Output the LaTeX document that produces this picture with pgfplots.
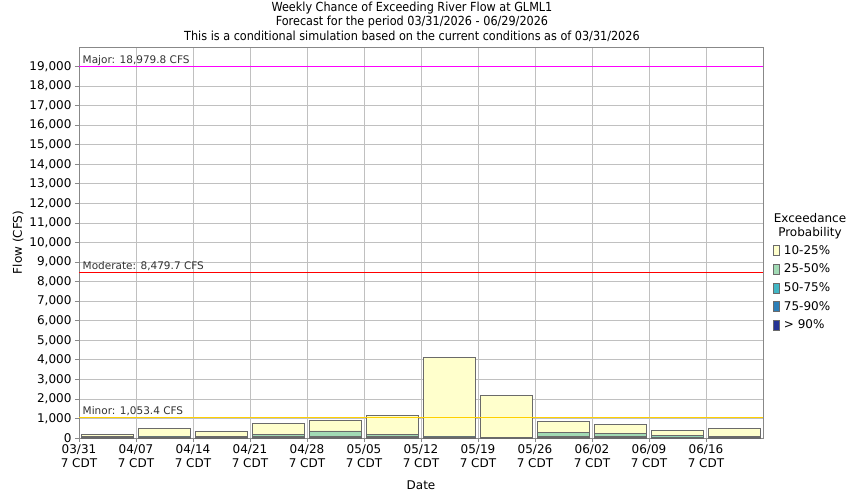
\documentclass[border=0pt]{standalone}
\usepackage{pgfplots}
\pgfplotsset{compat=1.18}
\usepackage{fontspec}
\setmainfont{DejaVu Sans}
\newfontfamily\condfont{DejaVu Sans Condensed}
\definecolor{c10}{HTML}{FFFFCC}
\definecolor{c25}{HTML}{A1DAB4}
\definecolor{c50}{HTML}{41B6C4}
\definecolor{c75}{HTML}{2C7FB8}
\definecolor{c90}{HTML}{253494}
\definecolor{barline}{HTML}{6A6A6A}
\definecolor{gridc}{HTML}{C0C0C0}
\definecolor{axisc}{HTML}{888888}
\definecolor{minorc}{HTML}{FFD000}
\definecolor{majorc}{HTML}{FF00FF}
\definecolor{modc}{HTML}{FF0000}
\definecolor{txt}{HTML}{333333}
\begin{document}
\begin{tikzpicture}[font=\fontsize{12}{14}\selectfont]
\path[use as bounding box] (-79pt,-62pt) rectangle (771pt,438pt);
\begin{axis}[
  at={(0,0)}, anchor=south west,
  scale only axis, width=684pt, height=391pt,
  xmin=0, xmax=12, ymin=0, ymax=20000,
  xtick={0,1,...,11},
  xticklabels={{03/31\\7 CDT},{04/07\\7 CDT},{04/14\\7 CDT},{04/21\\7 CDT},{04/28\\7 CDT},{05/05\\7 CDT},{05/12\\7 CDT},{05/19\\7 CDT},{05/26\\7 CDT},{06/02\\7 CDT},{06/09\\7 CDT},{06/16\\7 CDT}},
  xticklabel style={align=center, font=\fontsize{12}{14}\selectfont, yshift=1pt},
  ytick={0,1000,...,19000},
  yticklabel style={font=\fontsize{12}{14}\selectfont},
  /pgf/number format/assume math mode=true,
  /pgf/number format/1000 sep={,},
  scaled y ticks=false,
  grid=major,
  major grid style={gridc, line width=0.8pt},
  axis line style={axisc, line width=0.9pt},
  tick style={axisc, line width=0.8pt},
  tick align=outside, major tick length=4pt,
  xtick pos=bottom, ytick pos=left,
  xlabel={Date}, ylabel={Flow (CFS)},
  xlabel style={at={(axis description cs:0.5,-0.120)}, anchor=center},
  ylabel style={at={(axis description cs:-0.0892,0.5)}, anchor=center},
  legend image code/.code={\draw[#1] (0pt,-5pt) rectangle (6pt,5pt);},
  legend style={at={(axis description cs:1.0145,0.497)}, anchor=north west, draw=none, fill=none,
    font=\fontsize{12}{14}\selectfont, row sep=5.2pt, column sep=2.5pt, inner sep=0pt,
    nodes={inner sep=1.5pt}},
  legend cell align=left,
]
\addplot[ybar, bar width=52pt, fill=c10, draw=barline, line width=0.8pt] coordinates {
(0.5,190) (1.5,510) (2.5,340) (3.5,750) (4.5,880) (5.5,1160) (6.5,4120) (7.5,2180) (8.5,850) (9.5,715) (10.5,390) (11.5,495)};
\addlegendentry{10-25\%}
\addplot[ybar, bar width=52pt, fill=c25, draw=barline, line width=0.8pt] coordinates {
(0.5,70) (1.5,80) (2.5,90) (3.5,190) (4.5,360) (5.5,190) (6.5,95) (7.5,45) (8.5,290) (9.5,255) (10.5,140) (11.5,85)};
\addlegendentry{25-50\%}
\addplot[ybar, bar width=52pt, fill=c50, draw=barline, line width=0.5pt] coordinates {
(0.5,50) (1.5,55) (2.5,65) (3.5,70) (4.5,70) (5.5,70) (6.5,60) (7.5,35) (8.5,70) (9.5,70) (10.5,60) (11.5,50)};
\addlegendentry{50-75\%}
\addplot[ybar, bar width=52pt, fill=c75, draw=barline, line width=0.5pt] coordinates {
(0.5,40) (1.5,40) (2.5,50) (3.5,50) (4.5,50) (5.5,50) (6.5,45) (7.5,30) (8.5,50) (9.5,50) (10.5,45) (11.5,40)};
\addlegendentry{75-90\%}
\addplot[ybar, bar width=52pt, fill=c90, draw=barline, line width=0.5pt] coordinates {
(0.5,25) (1.5,25) (2.5,30) (3.5,30) (4.5,30) (5.5,30) (6.5,30) (7.5,20) (8.5,30) (9.5,30) (10.5,30) (11.5,25)};
\addlegendentry{> 90\%}
\addplot[majorc, line width=1pt, forget plot] coordinates {(0,18979.8) (12,18979.8)};
\addplot[modc, line width=1pt, forget plot] coordinates {(0,8479.7) (12,8479.7)};
\addplot[minorc, line width=1.4pt, forget plot] coordinates {(0,1053.4) (12,1053.4)};
\node[anchor=south west, text=txt, font=\fontsize{10.5}{12}\selectfont, inner sep=1.5pt, xshift=2pt] at (axis cs:0,18979.8) {Major: 18,979.8 CFS};
\node[anchor=south west, text=txt, font=\fontsize{10.5}{12}\selectfont, inner sep=1.5pt, xshift=2pt] at (axis cs:0,8479.7) {Moderate: 8,479.7 CFS};
\node[anchor=south west, text=txt, font=\fontsize{10.5}{12}\selectfont, inner sep=1.5pt, xshift=2pt] at (axis cs:0,1053.4) {Minor: 1,053.4 CFS};
\end{axis}
\node[align=center, font=\fontsize{12}{14}\selectfont] at (731pt,212pt) {Exceedance\\Probability};
\node[font=\condfont\fontsize{12.5}{14}\selectfont] at (333pt,430pt) {Weekly Chance of Exceeding River Flow at GLML1};
\node[font=\condfont\fontsize{12.5}{14}\selectfont] at (333pt,416pt) {Forecast for the period 03/31/2026 - 06/29/2026};
\node[font=\condfont\fontsize{12.5}{14}\selectfont] at (333pt,402pt) {This is a conditional simulation based on the current conditions as of 03/31/2026};
\end{tikzpicture}
\end{document}
